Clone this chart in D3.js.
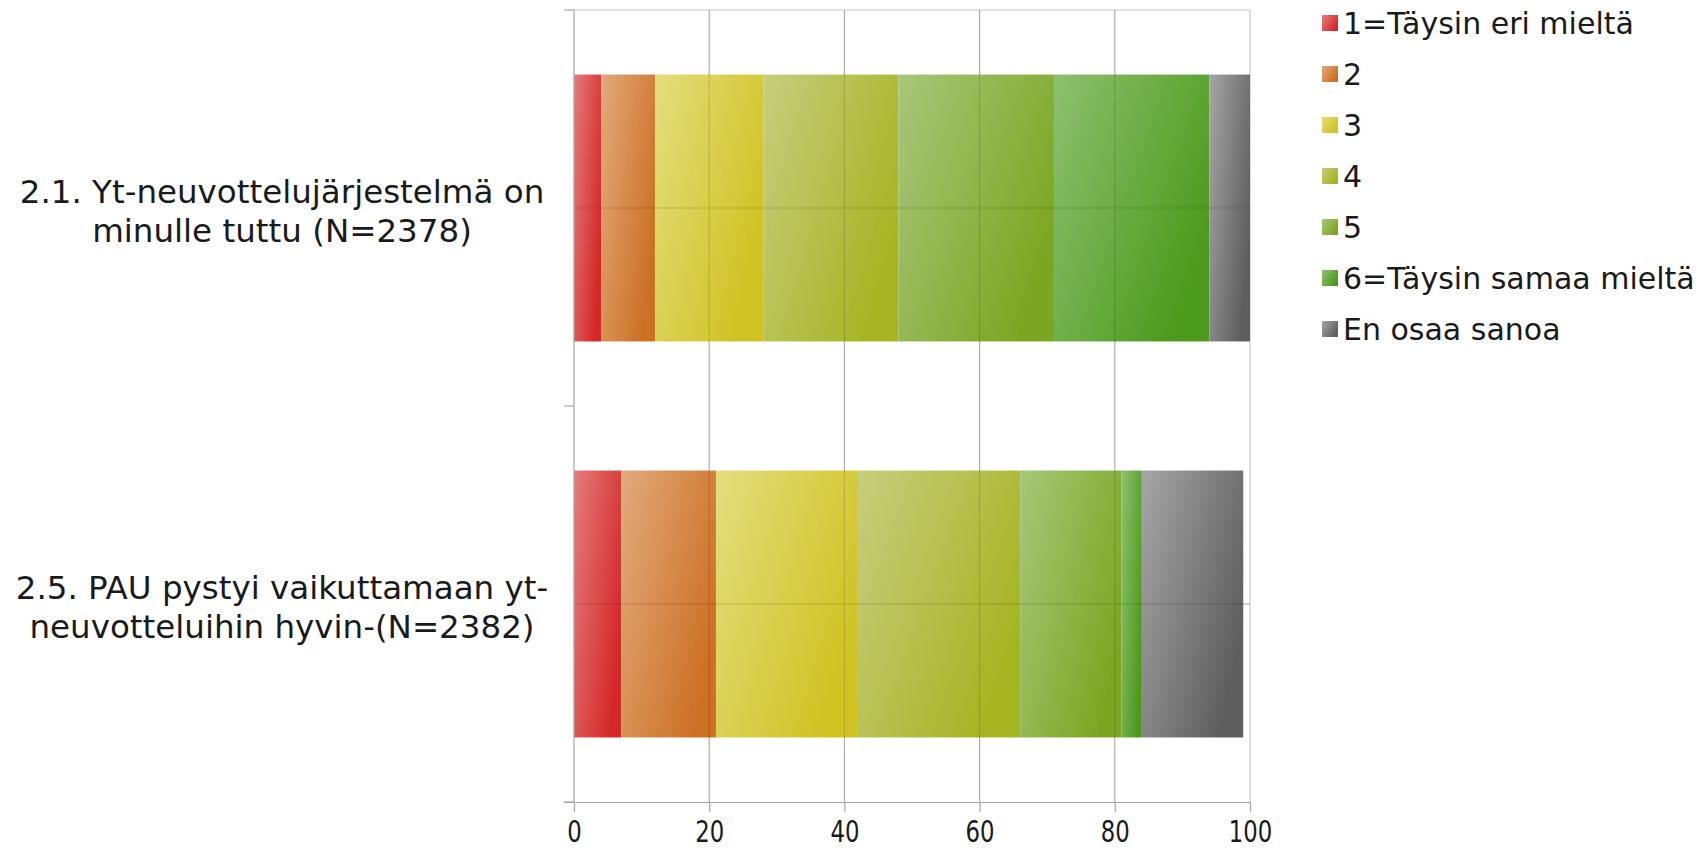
<!DOCTYPE html>
<html>
<head>
<meta charset="utf-8">
<script src="https://cdn.jsdelivr.net/npm/d3@7"></script>
<style>
  html, body { margin: 0; padding: 0; background: #ffffff; }
  svg { display: block; }
</style>
</head>
<body>
<svg id="chart" width="1707" height="852"></svg>
<script>
// ---- data ----
const categories = [
  "2.1. Yt-neuvottelujärjestelmä on minulle tuttu (N=2378)",
  "2.5. PAU pystyi vaikuttamaan yt-neuvotteluihin hyvin-(N=2382)"
];
const categoryLines = [
  ["2.1. Yt-neuvottelujärjestelmä on", "minulle tuttu (N=2378)"],
  ["2.5. PAU pystyi vaikuttamaan yt-", "neuvotteluihin hyvin-(N=2382)"]
];
const seriesNames = ["1=Täysin eri mieltä", "2", "3", "4", "5", "6=Täysin samaa mieltä", "En osaa sanoa"];
const values1 = [4, 8, 16, 20, 23, 23, 6];
const values2 = [7, 14, 21, 24, 15, 3, 15];
const seriesValues = [values1, values2];
const xTicks = [0, 20, 40, 60, 80, 100];

// ---- styles ----
const gradStops = [
  ["#e57c7c", "#d42828"],
  ["#e2aa7c", "#cc7024"],
  ["#e2de7e", "#d0c222"],
  ["#c6ce7e", "#a6b422"],
  ["#a8c67a", "#7ca622"],
  ["#8ec070", "#4c9a1c"],
  ["#a6a6a6", "#5e5e5e"]
];

const svg = d3.select("#chart");
const defs = svg.append("defs");
gradStops.forEach((s, i) => {
  const g = defs.append("linearGradient").attr("id", "g" + i)
    .attr("x1", 0).attr("y1", 0).attr("x2", 1).attr("y2", 0.6);
  g.append("stop").attr("offset", "0%").attr("stop-color", s[0]);
  g.append("stop").attr("offset", "100%").attr("stop-color", s[1]);
});

const x = d3.scaleLinear().domain([0, 100]).range([574, 1250]);
const y = d3.scaleBand().domain(categories).range([10, 802]).paddingInner(0.326).paddingOuter(0.163);
const plotTop = 10, plotBottom = 802;
const step = y.step();

// gridlines behind
const grid = svg.append("g");
grid.selectAll("line.v").data(xTicks.slice(1)).join("line")
  .attr("x1", d => x(d)).attr("x2", d => x(d))
  .attr("y1", plotTop).attr("y2", plotBottom)
  .attr("stroke", "#c8c8c8").attr("stroke-width", 1.2);
grid.append("line").attr("x1", x(0)).attr("x2", x(100)).attr("y1", plotTop).attr("y2", plotTop)
  .attr("stroke", "#c8c8c8").attr("stroke-width", 1.2);
grid.selectAll("line.h").data(categories).join("line")
  .attr("x1", x(0)).attr("x2", x(100))
  .attr("y1", d => y(d) + y.bandwidth() / 2).attr("y2", d => y(d) + y.bandwidth() / 2)
  .attr("stroke", "#c8c8c8").attr("stroke-width", 1.2);

// bars
categories.forEach((cat, ci) => {
  let acc = 0;
  const segs = seriesValues[ci].map((v, si) => { const s = { x0: acc, x1: acc + v, si }; acc += v; return s; });
  svg.append("g").selectAll("rect").data(segs).join("rect")
    .attr("x", d => x(d.x0)).attr("width", d => x(d.x1) - x(d.x0))
    .attr("y", y(cat)).attr("height", y.bandwidth())
    .attr("fill", d => `url(#g${d.si})`);
});

// faint gridlines over bars
const grid2 = svg.append("g").attr("opacity", 0.14);
grid2.selectAll("line.v").data(xTicks.slice(1, 5)).join("line")
  .attr("x1", d => x(d)).attr("x2", d => x(d))
  .attr("y1", plotTop).attr("y2", plotBottom)
  .attr("stroke", "#000").attr("stroke-width", 1);
grid2.selectAll("line.h").data(categories).join("line")
  .attr("x1", x(0)).attr("x2", x(100))
  .attr("y1", d => y(d) + y.bandwidth() / 2).attr("y2", d => y(d) + y.bandwidth() / 2)
  .attr("stroke", "#000").attr("stroke-width", 1);

// y axis
const yAxisG = svg.append("g");
yAxisG.append("line").attr("x1", x(0)).attr("x2", x(0)).attr("y1", plotTop).attr("y2", plotBottom)
  .attr("stroke", "#a6a6a6").attr("stroke-width", 1.2);
const boundaries = [plotTop].concat(categories.map(c => y(c) - y.paddingOuter() * step + step));
yAxisG.selectAll("line.t").data(boundaries).join("line")
  .attr("x1", x(0) - 10).attr("x2", x(0)).attr("y1", d => d).attr("y2", d => d)
  .attr("stroke", "#a6a6a6").attr("stroke-width", 1.2);

// category labels
categories.forEach((cat, ci) => {
  const cy = y(cat) + y.bandwidth() / 2;
  const t = svg.append("text")
    .attr("x", 282).attr("text-anchor", "middle")
    .attr("font-family", "DejaVu Sans, Verdana, sans-serif")
    .attr("font-size", 32.5).attr("fill", "#1a1a1a");
  categoryLines[ci].forEach((ln, li) => {
    t.append("tspan").attr("x", 282).attr("y", cy - 5 + li * 39).text(ln);
  });
});

// x axis
const xAxis = d3.axisBottom(x).tickValues(xTicks).tickSize(10).tickPadding(9);
const xg = svg.append("g").attr("transform", `translate(0,${plotBottom})`).call(xAxis);
xg.select(".domain").attr("stroke", "#a6a6a6").attr("stroke-width", 1.2)
  .attr("d", `M${x(0) - 10},0.5H${x(100)}`);
xg.selectAll(".tick line").attr("stroke", "#a6a6a6").attr("stroke-width", 1.2);
xg.selectAll(".tick text")
  .attr("font-family", "DejaVu Sans, sans-serif")
  .attr("font-size", 30).attr("fill", "#1a1a1a").attr("dy", "0.71em")
  .attr("transform", "scale(0.76,1)");

// legend
const legend = svg.append("g");
const legendY = d3.scalePoint().domain(seriesNames).range([23, 329]);
seriesNames.forEach((name, i) => {
  const cy = legendY(name);
  legend.append("rect").attr("x", 1322).attr("y", cy - 8).attr("width", 16).attr("height", 16)
    .attr("fill", `url(#g${i})`);
  legend.append("text").attr("x", 1343).attr("y", cy + 11)
    .attr("font-family", "DejaVu Sans, Verdana, sans-serif")
    .attr("font-size", 30).attr("fill", "#1a1a1a").text(name);
});
</script>
</body>
</html>
